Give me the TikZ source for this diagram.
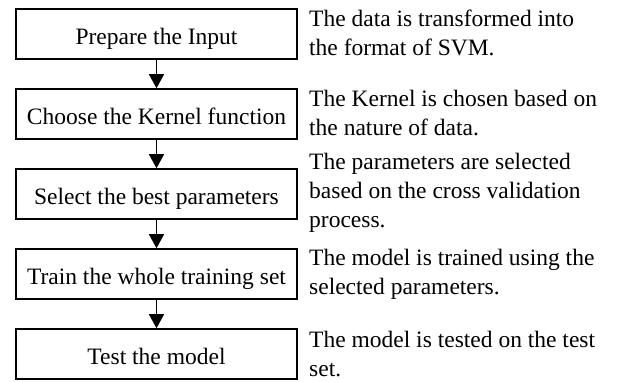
\documentclass[tikz,border=0pt]{standalone}
\usepackage{fontspec}
\setmainfont{Liberation Serif}
\usetikzlibrary{arrows.meta}
\begin{document}
\begin{tikzpicture}[x=1pt,y=-1pt,
  stepbox/.style={draw=black,line width=1.6pt,minimum width=281pt,minimum height=50pt,inner sep=0pt,
    text height=20pt,text depth=0pt,font=\fontsize{23.5}{29}\selectfont},
  note/.style={anchor=west,align=left,inner sep=0pt,font=\fontsize{23.5}{29}\selectfont},
  arr/.style={line width=1.5pt,-{Triangle[width=15pt,length=14pt]}}]
\useasboundingbox (0,0) rectangle (617,381);
\node[stepbox] (b1) at (156.5,34) {Prepare the Input};
\node[stepbox] (b2) at (156.5,114) {Choose the Kernel function};
\node[stepbox] (b3) at (156.5,194) {Select the best parameters};
\node[stepbox] (b4) at (156.5,274) {Train the whole training set};
\node[stepbox] (b5) at (156.5,354) {Test the model};
\draw[arr] (b1) -- (b2);
\draw[arr] (b2) -- (b3);
\draw[arr] (b3) -- (b4);
\draw[arr] (b4) -- (b5);
\node[note] (t1) at (309,33) {The data is transformed into\\the format of SVM.};
\node[note] (t2) at (309,113.5) {The Kernel is chosen based on\\the nature of data.};
\node[note] (t3) at (309,193) {The parameters are selected\\based on the cross validation\\process.};
\node[note] (t4) at (309,274) {The model is trained using the\\selected parameters.};
\node[note] (t5) at (309,354) {The model is tested on the test\\set.};
\end{tikzpicture}
\end{document}
